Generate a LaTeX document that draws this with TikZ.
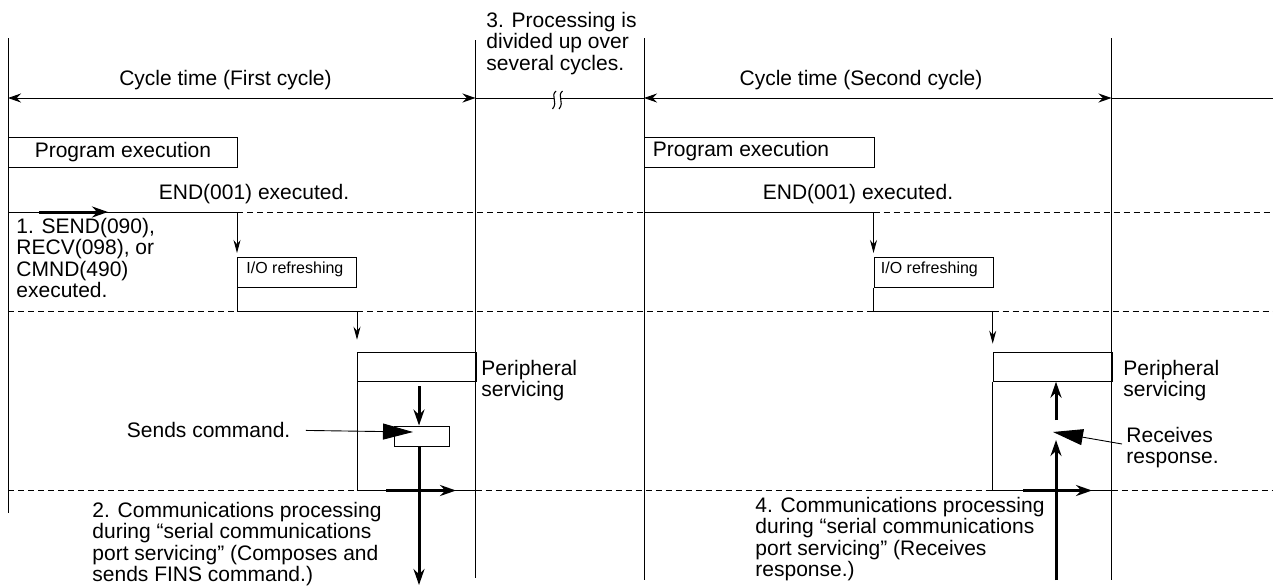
\documentclass[tikz,border=0pt]{standalone}
\usepackage{fontspec}
\setmainfont{Liberation Sans}
\usetikzlibrary{arrows.meta}
\newcommand\bigtxt{\fontsize{21}{21.5}\selectfont}
\newcommand\smtxt{\fontsize{16}{18}\selectfont}
\begin{document}
\begin{tikzpicture}[x=1pt,y=-1pt,
  every path/.style={line width=0.9pt},
  dline/.style={line width=0.9pt, dash pattern=on 6pt off 4pt},
  boxn/.style={draw, line width=0.9pt, inner sep=0pt, anchor=north west},
  lbl/.style={inner sep=0pt, font=\bigtxt},
  slbl/.style={inner sep=0pt, font=\smtxt},
  flowarr/.style={line width=0.9pt, -{Stealth[length=13pt,width=7pt]}},
  thickarr/.style={line width=3pt, -{Stealth[length=16pt,width=11pt]}},
  ptr/.style={line width=0.9pt, -{Triangle[length=30pt,width=16pt]}},
  dimarr/.style={line width=0.9pt, {Stealth[length=13pt,width=9pt]}-{Stealth[length=13pt,width=9pt]}}
]
\useasboundingbox (0,0) rectangle (1273,587);

% vertical cycle boundaries
\coordinate (v1t) at (8,38);      \coordinate (v1b) at (8,513);
\coordinate (v2t) at (475.5,40);  \coordinate (v2b) at (475.5,578);
\coordinate (v3t) at (644,38);    \coordinate (v3b) at (644,580);
\coordinate (v4t) at (1111.5,38); \coordinate (v4b) at (1111.5,580);
\draw (v1t) -- (v1b);
\draw (v2t) -- (v2b);
\draw (v3t) -- (v3b);
\draw (v4t) -- (v4b);

% cycle time dimension lines
\coordinate (d1) at (8,98);
\coordinate (d2) at (475.5,98);
\coordinate (d3) at (644,98);
\coordinate (d4) at (1111.5,98);
\coordinate (d5) at (1273,98);
\draw[dimarr] (d1) -- (d2);
\draw (d2) -- (d3);
\draw[dimarr] (d3) -- (d4);
\draw (d4) -- (d5);
% break mark
\fill[white] (553.5,94) rectangle (560.5,102);
\draw[line width=1.1pt] (556,91) .. controls (550,96) and (558.5,102) .. (552.5,109);
\draw[line width=1.1pt] (562.5,91) .. controls (556.5,96) and (565,102) .. (559,109);

\node[lbl, anchor=base] (ct1) at (225.5,85) {Cycle time (First cycle)};
\node[lbl, anchor=base] (ct2) at (861,85) {Cycle time (Second cycle)};
\node[lbl, anchor=north west, align=left] (n3) at (486,11.4)
  {3. Processing is\\divided up over\\several cycles.};

% program execution boxes
\node[boxn, font=\bigtxt, minimum width=229pt, minimum height=30pt] (pe1) at (8,137) {Program execution};
\node[boxn, minimum width=229.5pt, minimum height=30pt] (pe2) at (644,137) {};
\node[lbl, anchor=base west] (pe2t) at (652.5,156) {Program execution};

\node[lbl, anchor=base] (end1) at (254,199) {END(001) executed.};
\node[lbl, anchor=base] (end2) at (858,199) {END(001) executed.};

% level y=212
\coordinate (a1) at (8,212);
\coordinate (a2) at (237,212);
\coordinate (a3) at (644,212);
\coordinate (a4) at (873.5,212);
\coordinate (a5) at (1273,212);
\draw (a1) -- (a2);
\draw[dline] (a2) -- (a3);
\draw (a3) -- (a4);
\draw[dline] (a4) -- (a5);
\coordinate (s0) at (39,212);
\coordinate (s1) at (108,212);
\draw[thickarr] (s0) -- (s1);

\node[lbl, anchor=north west, align=left] (n1) at (16,217.7)
  {1. SEND(090),\\RECV(098), or\\CMND(490)\\executed.};

% I/O refreshing
\node[boxn, minimum width=119pt, minimum height=30pt] (io1) at (237,257) {};
\node[slbl, anchor=base west] (io1t) at (246,273) {I/O refreshing};
\node[boxn, minimum width=119.2pt, minimum height=30pt] (io2) at (873.5,257) {};
\node[slbl, anchor=base west] (io2t) at (880.5,273) {I/O refreshing};
\draw[flowarr, shorten >=4pt] (a2) -- (io1.north west);
\draw[flowarr, shorten >=4pt] (a4) -- (io2.north west);

% level y=311
\coordinate (b1) at (8,311);
\coordinate (b2) at (237,311);
\coordinate (b3) at (357,311);
\coordinate (b4) at (873.5,311);
\coordinate (b5) at (992.7,311);
\coordinate (b6) at (1273,311);
\draw[dline] (b1) -- (b2);
\draw (io1.south west) -- (b2) -- (b3);
\draw[dline] (b3) -- (b4);
\draw (io2.south west) -- (b4) -- (b5);
\draw[dline] (b5) -- (b6);

% peripheral servicing
\node[boxn, minimum width=118.5pt, minimum height=29pt] (p1) at (357,351.7) {};
\node[boxn, minimum width=118.8pt, minimum height=29pt] (p2) at (992.7,351.7) {};
\draw[flowarr, shorten >=12pt] (b3) -- (p1.north west);
\draw[flowarr, shorten >=8pt] (b5) -- (p2.north west);
\node[lbl, anchor=north west, align=left] (p1l) at (481,359.7) {Peripheral\\servicing};
\node[lbl, anchor=north west, align=left] (p2l) at (1123,359.7) {Peripheral\\servicing};

% level y=490.5
\coordinate (c1) at (8,490.5);
\coordinate (c2) at (357,490.5);
\coordinate (c3) at (475.5,490.5);
\coordinate (c4) at (992.7,490.5);
\coordinate (c5) at (1111.5,490.5);
\coordinate (c6) at (1273,490.5);
\draw[dline] (c1) -- (c2);
\draw (p1.south west) -- (c2) -- (c3);
\draw[dline] (c3) -- (c4);
\draw (p2.south west) -- (c4) -- (c5);
\draw[dline] (c5) -- (c6);

% first cycle: send command
\node[boxn, minimum width=55pt, minimum height=20pt] (sb) at (394,426) {};
\coordinate (t0) at (419,386);
\coordinate (t1) at (419,425.5);
\coordinate (t2) at (419,446.5);
\coordinate (t3) at (419,585);
\draw[thickarr] (t0) -- (t1);
\draw[thickarr] (t2) -- (t3);
\coordinate (h0) at (386,490.5);
\coordinate (h1) at (456,490.5);
\draw[thickarr] (h0) -- (h1);
\node[lbl, anchor=base west] (sc) at (126.5,437.7) {Sends command.};
\coordinate (sctip) at (413,432);
\draw[ptr, shorten <=15pt] (sc.east) -- (sctip);

\node[lbl, anchor=north west, align=left] (n2) at (92,501.4)
  {2. Communications processing\\during “serial communications\\port servicing” (Composes and\\sends FINS command.)};

% second cycle: receive response
\coordinate (u0) at (1056,580);
\coordinate (u1) at (1056,440);
\coordinate (u2) at (1056,420);
\coordinate (u3) at (1056,381.7);
\draw[thickarr] (u0) -- (u1);
\draw[thickarr] (u2) -- (u3);
\coordinate (g0) at (1023,490.5);
\coordinate (g1) at (1092,490.5);
\draw[thickarr] (g0) -- (g1);
\node[lbl, anchor=north west, align=left] (rr) at (1126,426.7) {Receives\\response.};
\coordinate (rrs) at (1122,444);
\coordinate (rrtip) at (1053,432);
\draw[ptr] (rrs) -- (rrtip);

\node[lbl, anchor=north west, align=left] (n4) at (755,496.4)
  {4. Communications processing\\during “serial communications\\port servicing” (Receives\\response.)};
\end{tikzpicture}
\end{document}
